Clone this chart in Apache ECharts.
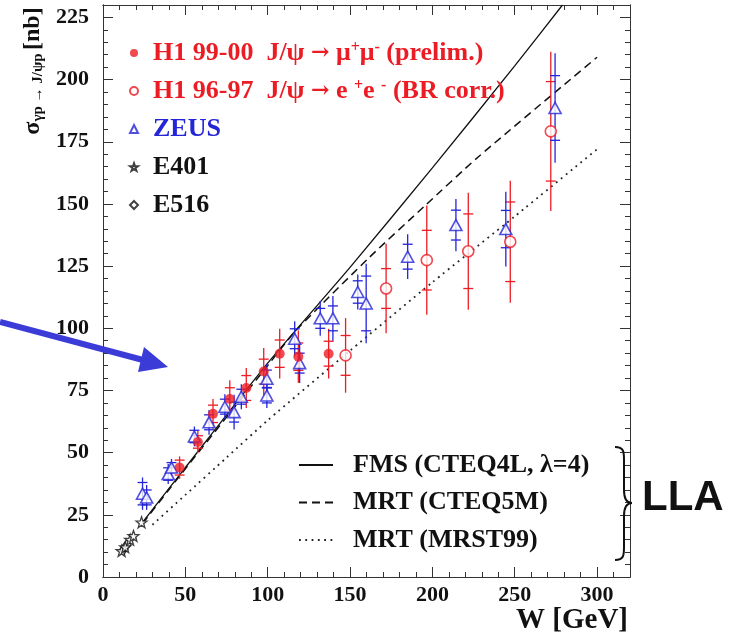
<!DOCTYPE html>
<html>
<head>
<meta charset="utf-8">
<script src="https://cdn.jsdelivr.net/npm/echarts@6/dist/echarts.min.js"></script>
<style>
html, body { margin: 0; padding: 0; background: #fff; }
#chart { width: 740px; height: 643px; }
</style>
</head>
<body>
<div id="chart"></div>
<script>
// H1 99-00, J/psi -> mu+ mu- (preliminary): W [GeV], sigma [nb], stat and total errors
const h1mmW     = [46.5, 57.6, 66.8, 77.0, 87.0, 97.6, 107.3, 118.6, 137.0];
const h1mmSigma = [44.0, 54.3, 65.6, 71.6, 76.0, 82.6, 89.8, 88.6, 89.8];
const h1mmStat  = [3.0, 2.5, 3.5, 4.5, 5.0, 5.0, 5.5, 5.5, 5.0];
const h1mmTot   = [4.5, 4.5, 6.0, 7.5, 8.0, 9.5, 10.0, 10.5, 10.0];

// H1 96-97, J/psi -> e+ e- (BR corrected)
const h1eeW     = [147.3, 171.9, 196.6, 221.8, 247.3, 271.9];
const h1eeSigma = [89.1, 116.0, 127.4, 131.0, 134.8, 179.2];
const h1eeStat  = [8.0, 8.0, 12.0, 15.0, 16.0, 20.0];
const h1eeTot   = [15.0, 18.0, 22.0, 23.5, 24.5, 32.0];

// ZEUS
const zeusW     = [24.0, 26.5, 39.6, 41.6, 55.5, 64.4, 74.0, 79.6, 84.0, 99.5, 99.5, 116.4, 119.4, 131.9, 139.6, 154.7, 159.8, 185.0, 214.3, 244.6, 274.5];
const zeusSigma = [33.5, 32.0, 41.4, 44.0, 56.5, 62.2, 68.5, 66.3, 72.5, 79.7, 73.0, 95.8, 86.0, 104.0, 104.0, 114.6, 110.0, 128.8, 141.5, 139.9, 188.6];
const zeusStat  = [4.5, 3.0, 2.5, 2.0, 2.5, 3.0, 3.0, 4.0, 3.0, 3.5, 3.0, 4.0, 4.0, 4.0, 5.0, 4.5, 11.0, 5.0, 6.0, 7.5, 13.0];
const zeusTot   = [6.5, 5.0, 4.0, 3.5, 4.0, 5.0, 5.0, 7.0, 5.0, 6.0, 5.0, 7.0, 8.0, 7.0, 9.0, 7.0, 16.0, 9.0, 10.5, 15.0, 22.0];

// Fixed-target experiments
const e401W     = [11.3, 13.5, 16.5, 18.5, 23.4];
const e401Sigma = [10.5, 12.0, 15.0, 16.5, 22.0];
const e516W     = [12.5, 14.5];
const e516Sigma = [11.0, 13.0];

// LLA predictions
const fmsW      = [24, 50, 100, 150, 200, 250, 279];
const fmsSigma  = [22.0, 44.0, 86.0, 124.5, 164.5, 205.5, 230.0];
const cteq5W    = [24, 47, 100, 117, 162, 195, 228, 300];
const cteq5Sigma= [21.5, 41.0, 85.0, 99.0, 128.7, 149.0, 169.0, 209.0];
const mrst99W   = [30, 50, 75, 100, 150, 200, 250, 300];
const mrst99Sigma = [21.0, 33.0, 48.0, 63.0, 91.0, 118.5, 145.0, 172.0];

// Axis ticks
const xMajorStep = 50, xMinorStep = 10, xMax = 320;
const yMajorStep = 25, yMinorStep = 5,  yMax = 230;

const RED = '#ec1c24';
const BLUE = '#2424d8';
const INK = '#111';
const SERIF = '"Liberation Serif", "DejaVu Serif", serif';

const STAR = 'path://M0,-1L0.235,-0.324L0.951,-0.309L0.380,0.124L0.588,0.809L0,0.4L-0.588,0.809L-0.380,0.124L-0.951,-0.309L-0.235,-0.324Z';

const pairs = (xs, ys) => xs.map((x, i) => [x, ys[i]]);

function errorBars(xs, ys, stat, tot, color) {
  return {
    type: 'custom',
    xAxisIndex: 0, yAxisIndex: 0,
    z: 3,
    silent: true,
    encode: { x: 0, y: 1 },
    data: xs.map((x, i) => [x, ys[i], stat[i], tot[i]]),
    renderItem: function (params, api) {
      const w = api.value(0), s = api.value(1), st = api.value(2), tt = api.value(3);
      const top = api.coord([w, s + tt]);
      const bot = api.coord([w, s - tt]);
      const sHi = api.coord([w, s + st]);
      const sLo = api.coord([w, s - st]);
      const style = { stroke: color, lineWidth: 1.3 };
      const hw = 5;
      return {
        type: 'group',
        children: [
          { type: 'line', shape: { x1: top[0], y1: top[1], x2: bot[0], y2: bot[1] }, style: style },
          { type: 'line', shape: { x1: sHi[0] - hw, y1: sHi[1], x2: sHi[0] + hw, y2: sHi[1] }, style: style },
          { type: 'line', shape: { x1: sLo[0] - hw, y1: sLo[1], x2: sLo[0] + hw, y2: sLo[1] }, style: style }
        ]
      };
    }
  };
}

function xAxisDef(position, step, tickLen, withLabels) {
  return {
    type: 'value', position: position, min: 0, max: xMax, interval: step,
    axisLine: { show: true, onZero: false, lineStyle: { color: '#333', width: 1 } },
    axisTick: { show: true, inside: true, length: tickLen, lineStyle: { color: '#333', width: 1 } },
    axisLabel: withLabels ? {
      show: true, showMaxLabel: false, margin: 7,
      fontFamily: SERIF, fontWeight: 'bold', fontSize: 22, color: INK
    } : { show: false },
    splitLine: { show: false }
  };
}
function yAxisDef(position, step, tickLen, withLabels) {
  return {
    type: 'value', position: position, min: 0, max: yMax, interval: step,
    axisLine: { show: true, onZero: false, lineStyle: { color: '#333', width: 1 } },
    axisTick: { show: true, inside: true, length: tickLen, lineStyle: { color: '#333', width: 1 } },
    axisLabel: withLabels ? {
      show: true, showMaxLabel: false, margin: 14,
      fontFamily: SERIF, fontWeight: 'bold', fontSize: 22, color: INK
    } : { show: false },
    splitLine: { show: false }
  };
}

const legendText = {
  'H1 99-00': 'H1 99-00  J/ψ {arr|→} μ{sup|+}μ{sup|-} (prelim.)',
  'H1 96-97': 'H1 96-97  J/ψ {arr|→} e {sup|+}e {sup|-} (BR corr.)',
  'ZEUS': 'ZEUS',
  'E401': 'E401',
  'E516': 'E516'
};

// curly brace beside the LLA legend, built from bezier pieces
const braceStyle = { fill: 'none', stroke: INK, lineWidth: 2 };
const brace = [
  { type: 'bezierCurve', shape: { x1: 615, y1: 447, cpx1: 624, cpy1: 447, cpx2: 624, cpy2: 452, x2: 624, y2: 460 } },
  { type: 'line', shape: { x1: 624, y1: 460, x2: 624, y2: 490 } },
  { type: 'bezierCurve', shape: { x1: 624, y1: 490, cpx1: 624, cpy1: 498, cpx2: 626, cpy2: 503, x2: 632, y2: 503 } },
  { type: 'bezierCurve', shape: { x1: 632, y1: 503, cpx1: 626, cpy1: 503, cpx2: 624, cpy2: 508, x2: 624, y2: 516 } },
  { type: 'line', shape: { x1: 624, y1: 516, x2: 624, y2: 547 } },
  { type: 'bezierCurve', shape: { x1: 624, y1: 547, cpx1: 624, cpy1: 555, cpx2: 624, cpy2: 560, x2: 615, y2: 560 } }
].map(el => Object.assign(el, { z: 10, style: braceStyle }));

const chart = echarts.init(document.getElementById('chart'), null, { renderer: 'canvas' });

chart.setOption({
  animation: false,
  backgroundColor: '#fff',
  grid: { left: 103, right: 110, top: 5, bottom: 66, containLabel: false },
  xAxis: [
    xAxisDef('bottom', xMinorStep, 5, false),
    xAxisDef('bottom', xMajorStep, 10, true),
    xAxisDef('top', xMinorStep, 5, false),
    xAxisDef('top', xMajorStep, 10, false)
  ],
  yAxis: [
    yAxisDef('left', yMinorStep, 5, false),
    yAxisDef('left', yMajorStep, 10, true),
    yAxisDef('right', yMinorStep, 5, false),
    yAxisDef('right', yMajorStep, 10, false)
  ],
  legend: [
    {
      orient: 'vertical', left: 129, top: 40, padding: 0,
      itemWidth: 8, itemHeight: 8, itemGap: 12,
      selectedMode: false,
      formatter: function (name) { return legendText[name]; },
      textStyle: {
        fontFamily: SERIF, fontWeight: 'bold', fontSize: 26, lineHeight: 26,
        padding: [0, 0, 0, 10],
        rich: {
          sup: { fontFamily: SERIF, fontWeight: 'bold', fontSize: 16, lineHeight: 14, verticalAlign: 'top' },
          arr: { fontFamily: '"DejaVu Serif", serif', fontSize: 22, lineHeight: 26 }
        }
      },
      data: [
        { name: 'H1 99-00', textStyle: { color: RED } },
        { name: 'H1 96-97', textStyle: { color: RED } },
        { name: 'ZEUS', textStyle: { color: BLUE } },
        { name: 'E401', textStyle: { color: INK } },
        { name: 'E516', textStyle: { color: INK } }
      ]
    },
    {
      orient: 'vertical', left: 298, top: 452, padding: 0,
      itemWidth: 34, itemHeight: 10, itemGap: 11.5,
      selectedMode: false,
      itemStyle: { opacity: 0 },
      textStyle: {
        fontFamily: SERIF, fontWeight: 'bold', fontSize: 26, lineHeight: 26, color: INK,
        padding: [0, 0, 0, 15]
      },
      data: ['FMS (CTEQ4L, λ=4)', 'MRT (CTEQ5M)', 'MRT (MRST99)']
    }
  ],
  series: [
    {
      name: 'FMS (CTEQ4L, λ=4)', type: 'line', symbol: 'none', smooth: 0.2, z: 2,
      itemStyle: { color: INK },
      lineStyle: { color: INK, width: 1.3, type: 'solid' },
      data: pairs(fmsW, fmsSigma)
    },
    {
      name: 'MRT (CTEQ5M)', type: 'line', symbol: 'none', smooth: 0.2, z: 2,
      itemStyle: { color: INK },
      lineStyle: { color: INK, width: 1.5, type: [8, 5] },
      data: pairs(cteq5W, cteq5Sigma)
    },
    {
      name: 'MRT (MRST99)', type: 'line', symbol: 'none', smooth: 0.2, z: 2,
      itemStyle: { color: INK },
      lineStyle: { color: '#222', width: 1.8, type: [1.8, 4.5] },
      data: pairs(mrst99W, mrst99Sigma)
    },
    errorBars(h1mmW, h1mmSigma, h1mmStat, h1mmTot, RED),
    errorBars(h1eeW, h1eeSigma, h1eeStat, h1eeTot, RED),
    errorBars(zeusW, zeusSigma, zeusStat, zeusTot, BLUE),
    {
      name: 'E516', type: 'scatter', z: 4, symbol: 'diamond', symbolSize: [8, 10],
      itemStyle: { color: '#fff', borderColor: INK, borderWidth: 1.3 },
      data: pairs(e516W, e516Sigma)
    },
    {
      name: 'E401', type: 'scatter', z: 5, symbol: STAR, symbolSize: 11,
      itemStyle: { color: '#fff', borderColor: INK, borderWidth: 1.3 },
      data: pairs(e401W, e401Sigma)
    },
    {
      name: 'ZEUS', type: 'scatter', z: 5, symbol: 'triangle', symbolSize: [12, 11],
      itemStyle: { color: '#fff', borderColor: BLUE, borderWidth: 1.6 },
      data: pairs(zeusW, zeusSigma)
    },
    {
      name: 'H1 96-97', type: 'scatter', z: 5, symbol: 'circle', symbolSize: 11,
      itemStyle: { color: '#fff', borderColor: RED, borderWidth: 1.6 },
      data: pairs(h1eeW, h1eeSigma)
    },
    {
      name: 'H1 99-00', type: 'scatter', z: 6, symbol: 'circle', symbolSize: 10,
      itemStyle: { color: RED, borderColor: RED, borderWidth: 0 },
      data: pairs(h1mmW, h1mmSigma)
    }
  ],
  graphic: [
    {
      // y-axis title, reading upwards
      type: 'text', x: 33, y: 71, rotation: Math.PI / 2,
      style: {
        text: '{s|σ}{sub|γp → J/ψp} {s|[nb]}',
        align: 'center', verticalAlign: 'middle', fill: INK,
        rich: {
          s: { fontFamily: SERIF, fontWeight: 'bold', fontSize: 24, fill: INK, verticalAlign: 'middle' },
          sub: { fontFamily: SERIF, fontWeight: 'bold', fontSize: 15, fill: INK, verticalAlign: 'bottom', padding: [11, 0, 0, 0] }
        }
      }
    },
    {
      type: 'text', x: 628, y: 621,
      style: {
        text: 'W [GeV]', align: 'right', verticalAlign: 'middle',
        font: 'bold 29px ' + SERIF, fill: INK
      }
    },
    ...brace,
    {
      type: 'text', x: 642, y: 498,
      style: {
        text: 'LLA', align: 'left', verticalAlign: 'middle',
        font: 'bold 42px "Liberation Sans", Arial, sans-serif', fill: INK
      }
    },
    {
      // pointer arrow
      type: 'line', z: 10,
      shape: { x1: 0, y1: 322, x2: 143, y2: 360 },
      style: { stroke: '#3b3bd8', lineWidth: 6 }
    },
    {
      type: 'polygon', z: 10,
      shape: { points: [[168, 367], [144, 347], [138, 372]] },
      style: { fill: '#3b3bd8' }
    }
  ]
});
</script>
</body>
</html>
